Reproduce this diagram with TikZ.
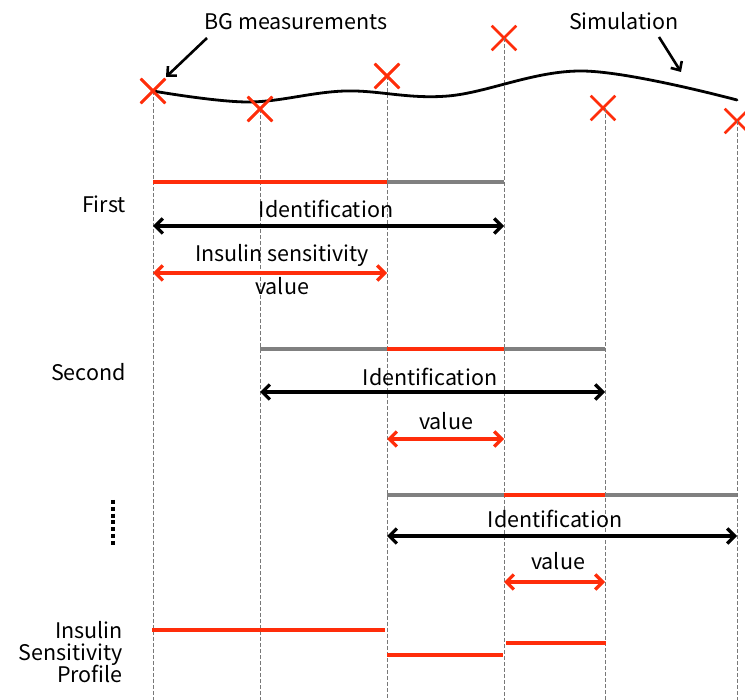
\documentclass[tikz,border=0pt]{standalone}
\usepackage{fontspec}
\setmainfont{Noto Sans CJK JP}
\usetikzlibrary{arrows.meta,shapes.misc}
\definecolor{myred}{RGB}{255,45,10}
\definecolor{bargray}{RGB}{128,128,128}
\definecolor{guidegray}{RGB}{120,120,120}
\begin{document}
\begin{tikzpicture}[x=1pt,y=-1pt,
  lbl/.style={font=\fontsize{21.5}{24}\selectfont, inner sep=0pt, anchor=base},
  xm/.style={cross out, draw=myred, line width=2.6pt, minimum size=22pt, inner sep=0pt},
  guide/.style={draw=guidegray, line width=0.8pt, dash pattern=on 4pt off 2pt},
  redbar/.style={draw=myred, line width=4.2pt},
  graybar/.style={draw=bargray, line width=3.6pt},
  profbar/.style={draw=myred, line width=3.2pt},
  dbl/.style={line width=3.2pt, {Straight Barb[length=7.5pt,width=15pt]}-{Straight Barb[length=7.5pt,width=15pt]}},
  callout/.style={line width=2.6pt, -{Straight Barb[length=7pt,width=13pt]}}
]
\useasboundingbox (0,0) rectangle (745,700);

% x positions of measurement instants
\def\xa{153}\def\xb{260}\def\xc{387}\def\xd{504}\def\xe{605}\def\xf{737}

% markers
\node[xm] (m1) at (\xa,91) {};
\node[xm] (m2) at (\xb,109) {};
\node[xm] (m3) at (\xc,76) {};
\node[xm] (m4) at (\xd,38) {};
\node[xm] (m5) at (603,108) {};
\node[xm] (m6) at (\xf,121) {};

% bottom ends of guides
\coordinate (b1) at (\xa,700);
\coordinate (b2) at (\xb,700);
\coordinate (b3) at (\xc,700);
\coordinate (b4) at (\xd,700);
\coordinate (b5) at (\xe,700);
\coordinate (b6) at (\xf,700);

\draw[guide] (\xa,91) -- (b1);
\draw[guide] (\xb,109) -- (b2);
\draw[guide] (\xc,76) -- (b3);
\draw[guide] (\xd,38) -- (b4);
\draw[guide] (\xe,108) -- (b5);
\draw[guide] (\xf,121) -- (b6);

% simulation curve
\draw[line width=2.8pt, line cap=round] plot[smooth, tension=0.6] coordinates
  {(153,91) (248,102) (345,91) (448,96) (583,71) (737,100)};
\node[xm] at (m1) {};
\node[xm] at (m2) {};
\node[xm] at (m3) {};

% top labels and callouts
\node[lbl] (bg) at (296,30) {BG measurements};
\node[lbl] (sim) at (624,30) {Simulation};
\coordinate (bgs) at (207,38);
\coordinate (bge) at (166,77);
\coordinate (sims) at (659,37);
\coordinate (sime) at (681,72);
\draw[callout] (bgs) -- (bge);
\draw[callout] (sims) -- (sime);

% ---- First ----
\node[lbl, anchor=base east] (first) at (126,213) {First};
\coordinate (r1a) at (\xa,182);
\coordinate (r1b) at (\xc,182);
\coordinate (r1c) at (\xd,182);
\draw[graybar] (r1b) -- (r1c);
\draw[redbar] (r1a) -- (r1b);
\node[lbl] (id1) at (326,218) {Identification};
\coordinate (a1l) at (\xa,226);
\coordinate (a1r) at (\xd,226);
\draw[dbl] (a1l) -- (a1r);
\node[lbl] (is1) at (282,262) {Insulin sensitivity};
\coordinate (v1l) at (\xa,273);
\coordinate (v1r) at (\xc,273);
\draw[dbl, draw=myred] (v1l) -- (v1r);
\node[lbl] (val1) at (282,295) {value};

% ---- Second ----
\node[lbl, anchor=base east] (second) at (126,381) {Second};
\coordinate (r2a) at (\xb,349);
\coordinate (r2b) at (\xc,349);
\coordinate (r2c) at (\xd,349);
\coordinate (r2d) at (\xe,349);
\draw[graybar] (r2a) -- (r2d);
\draw[redbar] (r2b) -- (r2c);
\node[lbl] (id2) at (430,386) {Identification};
\coordinate (a2l) at (\xb,392);
\coordinate (a2r) at (\xe,392);
\draw[dbl] (a2l) -- (a2r);
\node[lbl] (val2) at (446,430) {value};
\coordinate (v2l) at (\xc,439);
\coordinate (v2r) at (\xd,439);
\draw[dbl, draw=myred] (v2l) -- (v2r);

% ---- Third (dots) ----
\coordinate (d1) at (113,500);
\coordinate (d2) at (113,547);
\draw[line width=3.5pt, dash pattern=on 4pt off 2.8pt] (d1) -- (d2);
\coordinate (r3a) at (\xc,495);
\coordinate (r3b) at (\xd,495);
\coordinate (r3c) at (\xe,495);
\coordinate (r3d) at (\xf,495);
\draw[graybar] (r3a) -- (r3d);
\draw[redbar] (r3b) -- (r3c);
\node[lbl] (id3) at (555,528) {Identification};
\coordinate (a3l) at (\xc,536);
\coordinate (a3r) at (\xf,536);
\draw[dbl] (a3l) -- (a3r);
\node[lbl] (val3) at (558,570) {value};
\coordinate (v3l) at (\xd,582);
\coordinate (v3r) at (\xe,582);
\draw[dbl, draw=myred] (v3l) -- (v3r);

% ---- Profile ----
\node[lbl, anchor=base east] (p1) at (123,638) {Insulin};
\node[lbl, anchor=base east] (p2) at (123,660) {Sensitivity};
\node[lbl, anchor=base east] (p3) at (123,682) {Profile};
\coordinate (s1a) at (152,630);
\coordinate (s1b) at (385,630);
\coordinate (s2a) at (387,655);
\coordinate (s2b) at (503,655);
\coordinate (s3a) at (506,643);
\coordinate (s3b) at (606,643);
\draw[profbar] (s1a) -- (s1b);
\draw[profbar] (s2a) -- (s2b);
\draw[profbar] (s3a) -- (s3b);
\end{tikzpicture}
\end{document}
